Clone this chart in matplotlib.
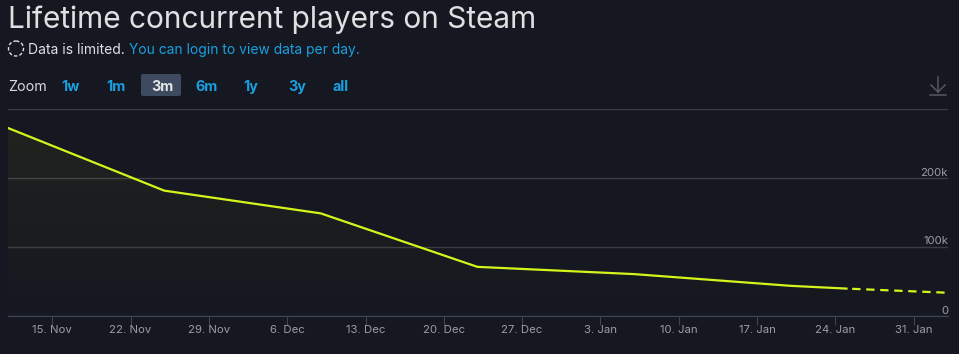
import matplotlib
matplotlib.use('Agg')
import numpy as np
import matplotlib.pyplot as plt
import matplotlib.dates as mdates
from matplotlib.patches import FancyBboxPatch, Polygon, Circle
from datetime import datetime

plt.rcParams['font.family']=['Inter','DejaVu Sans']
plt.rcParams['lines.scale_dashes']=False

# data
dates=['2024-11-11','2024-11-25','2024-12-09','2024-12-23','2025-01-06','2025-01-20','2025-01-25']
players=[272000,181000,148000,70500,60000,43000,39000]
pending_dates=['2025-01-25','2025-02-03']
pending_players=[39000,33000]
tick_dates=['2024-11-15','2024-11-22','2024-11-29','2024-12-06','2024-12-13','2024-12-20',
            '2024-12-27','2025-01-03','2025-01-10','2025-01-17','2025-01-24','2025-01-31']
tick_labels=['15. Nov','22. Nov','29. Nov','6. Dec','13. Dec','20. Dec',
             '27. Dec','3. Jan','10. Jan','17. Jan','24. Jan','31. Jan']
y_ticks=[0,100000,200000,300000]
y_labels=['0','100k','200k']
zoom_labels=['1w','1m','3m','6m','1y','3y','all']
zoom_x=[71,116,162,207,251,297,341]

BG='#151820'
LINE='#d4f41c'
BLUE='#1a9fe0'
W,H=959,354

def todate(l):
    return mdates.date2num([datetime.strptime(d,'%Y-%m-%d') for d in l])

fig=plt.figure(figsize=(W/100,H/100),dpi=100,facecolor=BG)
ax=fig.add_axes([8/W,1-315.5/H,940/W,207/H],facecolor=BG)

x=todate(dates)
xp=todate(pending_dates)
xt=todate(tick_dates)
px_per_day=78.3/7.0
xlim=(xt[0]-(52.3-8)/px_per_day,xt[0]+(948-52.3)/px_per_day)

# area gradient under the line
allx=np.r_[x,xp[1:]]
ally=np.r_[players,pending_players[1:]]
rgba=np.zeros((200,1,4))
rgba[...,:3]=matplotlib.colors.to_rgb(LINE)
rgba[:,0,3]=np.linspace(0,0.055,200)
im=ax.imshow(rgba,extent=[allx[0],allx[-1],0,272000],origin='lower',aspect='auto',zorder=1)
poly=Polygon(np.c_[np.r_[allx,allx[-1],allx[0]],np.r_[ally,0,0]],closed=True,transform=ax.transData,fc='none',ec='none')
ax.add_patch(poly)
im.set_clip_path(poly)
ax.set_xlim(*xlim)
ax.set_ylim(0,300000)

ax.plot(x,players,color=LINE,lw=1.6,zorder=3,solid_joinstyle='round')
# starts in a gap, so the solid part ends cleanly
ax.plot(xp,pending_players,color=LINE,lw=1.6,zorder=3,ls=(6.0,(6.0,4.1)),dash_capstyle='butt')

ax.set_yticks(y_ticks)
ax.set_yticklabels([])
ax.grid(axis='y',color='#3a3d44',lw=1)
ax.set_axisbelow(True)
for s in ['top','left','right']:
    ax.spines[s].set_visible(False)
ax.spines['bottom'].set_color('#3f4557')
ax.set_xticks(xt)
ax.set_xticklabels(tick_labels,fontsize=8.2,color='#9a9da3')
ax.tick_params(axis='x',length=6.5,color='#3f4557',pad=0.5)
ax.tick_params(axis='y',length=0)

for v,l in zip(y_ticks,y_labels):
    ax.annotate(l,(1,v),xycoords=('axes fraction','data'),xytext=(0,2),textcoords='offset pixels',
                ha='right',va='baseline',fontsize=8.2,color='#9a9da3')

def txt(px,py,s,**kw):
    fig.text(px/W,1-py/H,s,**kw)

txt(8,20,'Lifetime concurrent players on Steam',fontsize=21.5,color='#e0e0e3',va='center',ha='left')
txt(28,50,'Data is limited.',fontsize=10,color='#e0e0e3',va='center',ha='left')
txt(129,50,'You can login to view data per day.',fontsize=9.95,color=BLUE,va='center',ha='left')
txt(8,87,'Zoom',fontsize=10.3,color='#d8d8da',va='center',ha='left')

# page coordinates for the header widgets
ov=fig.add_axes([0,0,1,1],facecolor='none')
ov.set_xlim(0,W)
ov.set_ylim(H,0)
ov.axis('off')
ov.add_patch(Circle((16,48.5),7.5,fc='none',ec='#e0e0e3',lw=1,ls=(0,(2.5,1.5))))
ov.add_patch(FancyBboxPatch((141,74),40,22,boxstyle='round,pad=0,rounding_size=2',fc='#3d4a60',ec='none'))
for l,px in zip(zoom_labels,zoom_x):
    c='#e6e6e6' if l=='3m' else BLUE
    ov.text(px,87,l,fontsize=10.3,fontweight='bold',color=c,ha='center',va='center')
# download icon
ic='#55585e'
ov.plot([938,938],[77,92],color=ic,lw=1.1)
ov.plot([931,938,945],[85,92,85],color=ic,lw=1.1)
ov.plot([930,946],[95,95],color=ic,lw=1.1)

fig.savefig('out.png',dpi=100,facecolor=BG)
